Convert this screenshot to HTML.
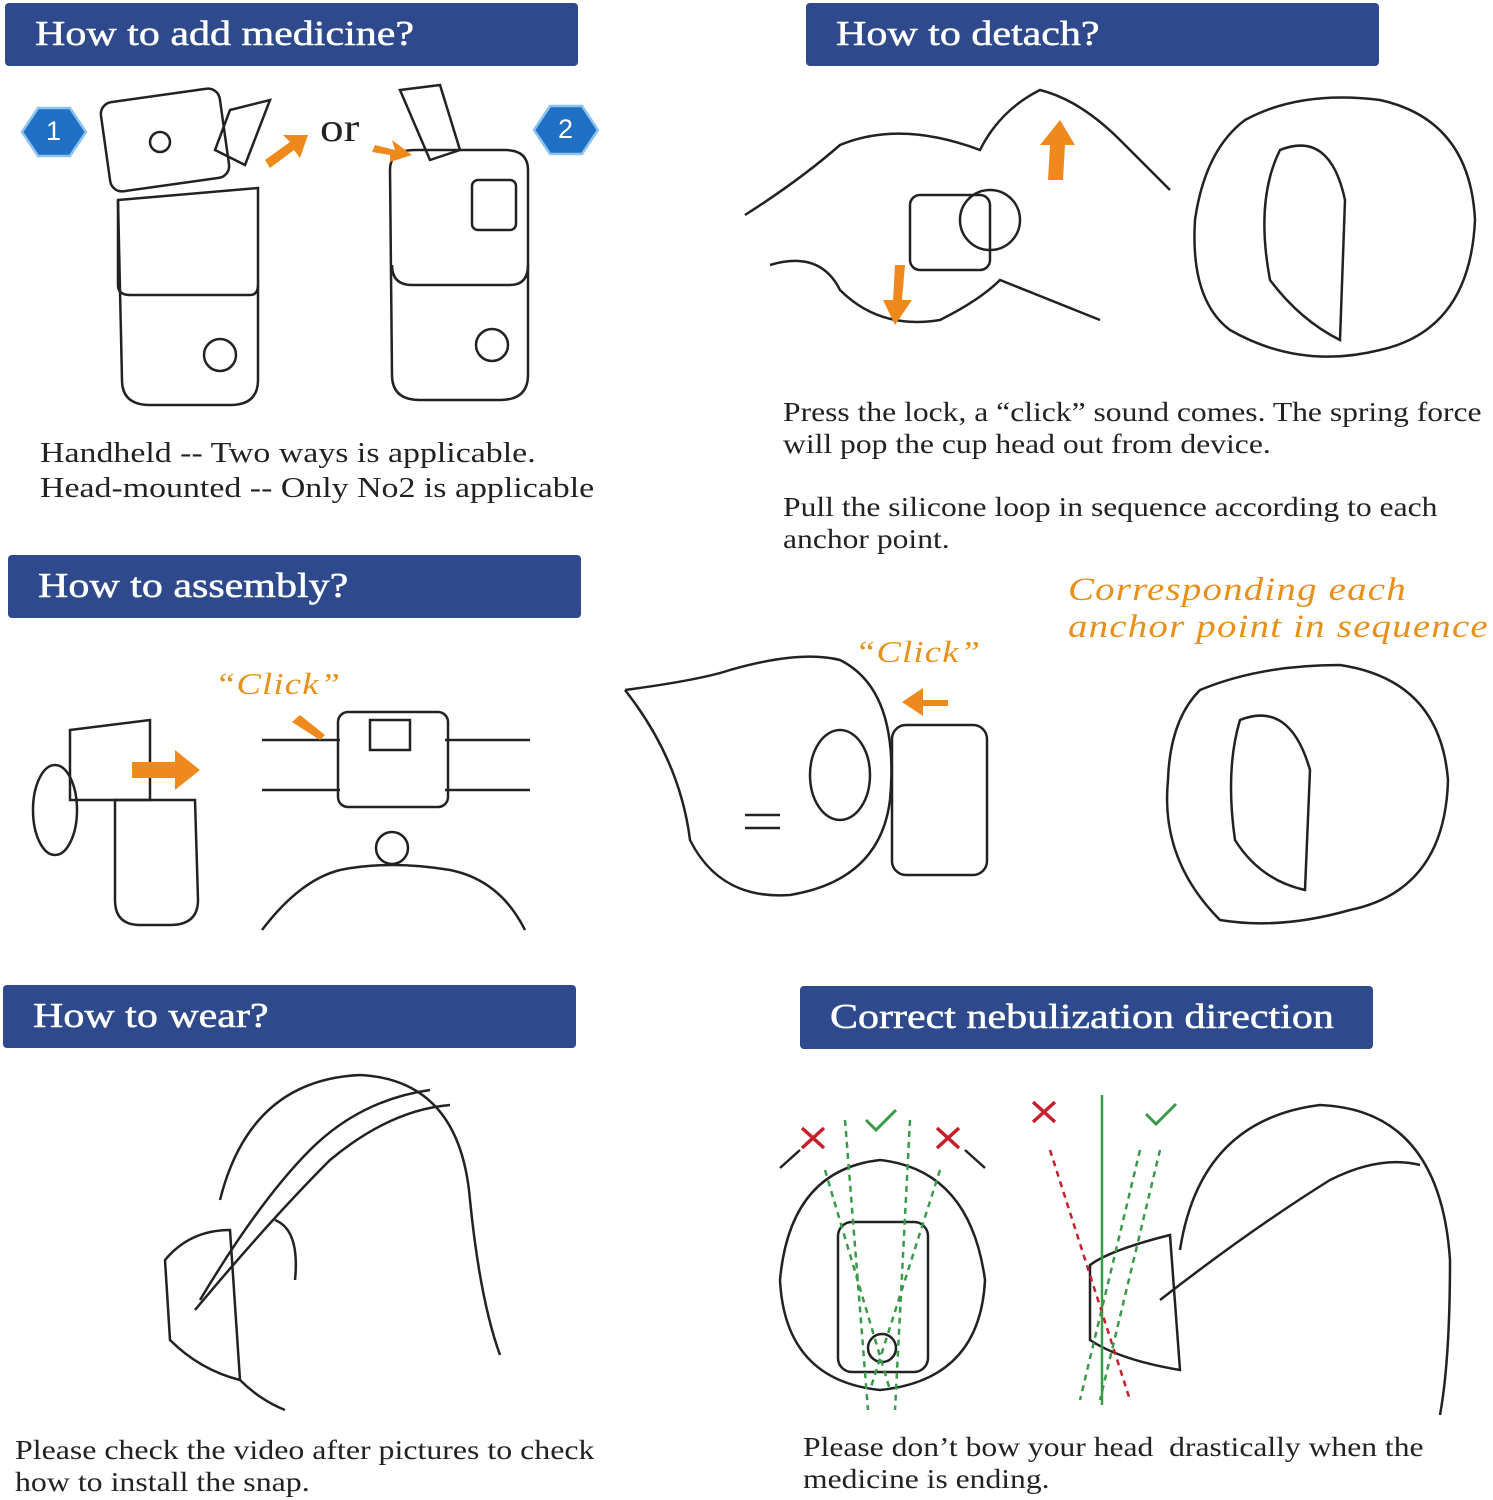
<!DOCTYPE html>
<html><head><meta charset="utf-8"><style>
html,body{margin:0;padding:0;background:#fff;}
body{width:1493px;height:1500px;position:relative;overflow:hidden;font-family:"Liberation Serif",serif;}
.h{position:absolute;background:#2e4a8c;color:#fff;font-size:35px;border-radius:4px;box-sizing:border-box;height:63px;}
.h span{position:absolute;left:30px;top:0;line-height:62px;transform:scaleX(1.2);transform-origin:left center;white-space:nowrap;-webkit-text-stroke:0.5px #fff;}
.t{position:absolute;font-size:27px;color:#222;line-height:32px;white-space:nowrap;transform:scaleX(1.18);transform-origin:left top;}
.o{position:absolute;color:#e8901a;font-style:italic;font-size:33px;line-height:37px;white-space:nowrap;letter-spacing:1px;transform:scaleX(1.18);transform-origin:left top;}
svg{position:absolute;left:0;top:0;}
</style></head><body>
<svg width="1493" height="1500" fill="none" stroke="#222" stroke-width="2.5">
<path d="M118 200 L258 188 L258 380 Q258 405 230 405 L150 405 Q122 405 122 380 Z"/>
<path d="M118 200 L118 285 Q118 295 130 295 L250 295 Q258 295 258 285"/>
<rect x="105" y="95" width="120" height="90" rx="12" transform="rotate(-8 165 140)"/>
<circle cx="160" cy="142" r="10"/><circle cx="220" cy="355" r="16"/>
<path d="M390 170 Q390 150 415 150 L505 150 Q528 150 528 170 L528 375 Q528 400 500 400 L420 400 Q392 400 392 375 Z"/>
<path d="M392 265 Q392 285 412 285 L510 285 Q528 285 528 265"/><rect x="472" y="180" width="44" height="50" rx="6"/>
<circle cx="492" cy="345" r="16"/>
<path d="M230 110 L270 100 L245 165 L215 150 Z"/><path d="M400 90 L440 85 L460 150 L430 160 Z"/>
<polygon points="38,108 70,108 86,132 70,156 38,156 22,132" fill="#1f6fc4" stroke="#8cc4f0"/>
<polygon points="550,106 582,106 598,130 582,154 550,154 534,130" fill="#1f6fc4" stroke="#8cc4f0"/>
<path d="M745 215 Q800 180 840 145 Q900 120 980 150 Q1000 110 1040 90 Q1080 100 1120 140 L1170 190"/>
<path d="M770 265 Q820 250 840 290 Q880 330 940 320 Q980 300 1000 280 L1100 320"/>
<rect x="910" y="195" width="80" height="75" rx="10"/><circle cx="990" cy="220" r="30"/>
<path d="M1245 120 Q1300 90 1380 100 Q1470 120 1475 220 Q1470 330 1380 350 Q1300 370 1230 330 Q1190 300 1195 220 Q1205 150 1245 120Z"/>
<path d="M1280 150 Q1330 130 1345 200 L1340 340 Q1300 320 1270 280 Q1255 200 1280 150Z"/>
<path d="M70 730 L150 720 L150 800 L70 800Z"/><ellipse cx="55" cy="810" rx="22" ry="45"/>
<path d="M115 800 L195 800 L198 900 Q198 925 170 925 L140 925 Q115 925 115 900Z"/>
<rect x="338" y="712" width="110" height="95" rx="10"/><rect x="370" y="720" width="40" height="30"/>
<path d="M262 740 L340 740 M445 740 L530 740 M262 790 L340 790 M445 790 L530 790 M262 930 Q300 880 340 870 Q390 860 450 870 Q500 880 525 930"/>
<circle cx="392" cy="848" r="16"/>
<path d="M625 690 Q700 680 730 670 Q800 650 840 660 Q900 690 890 800 Q880 880 790 895 Q720 900 690 840 Q680 760 625 690"/>
<ellipse cx="840" cy="775" rx="30" ry="45"/><rect x="892" y="725" width="95" height="150" rx="14"/>
<path d="M745 815 L780 815 M745 828 L780 828"/>
<path d="M1200 690 Q1260 665 1340 665 Q1440 680 1448 780 Q1445 890 1350 910 Q1280 930 1220 920 Q1160 860 1168 780 Q1170 720 1200 690Z"/>
<path d="M1240 720 Q1290 700 1310 770 L1305 890 Q1260 880 1235 840 Q1225 770 1240 720Z"/>
<path d="M220 1200 Q250 1080 360 1075 Q460 1080 470 1200 Q480 1300 500 1355"/>
<path d="M165 1260 Q190 1230 230 1230 L240 1380 Q200 1370 170 1340Z"/>
<path d="M200 1300 Q260 1200 310 1150 Q360 1100 430 1090"/><path d="M195 1310 Q270 1220 330 1160 Q390 1110 450 1105"/>
<path d="M275 1220 Q300 1230 295 1280"/><path d="M240 1380 Q260 1400 285 1410"/>
<path d="M780 1280 Q790 1170 880 1160 Q970 1170 985 1280 Q980 1380 880 1390 Q785 1380 780 1280Z"/>
<rect x="838" y="1222" width="90" height="150" rx="14"/><circle cx="882" cy="1348" r="14"/>
<path d="M1180 1250 Q1200 1120 1320 1105 Q1440 1110 1450 1260 Q1450 1360 1440 1415"/>
<path d="M1090 1265 Q1110 1250 1170 1235 L1180 1370 Q1120 1360 1090 1340Z"/>
<path d="M1160 1300 Q1250 1230 1330 1180 Q1380 1155 1420 1165"/>
<path d="M1102 1095 L1102 1405" stroke="#3a9a4a"/>
<path d="M1050 1150 L1130 1400" stroke="#c8202a" stroke-dasharray="6 5"/>
<path d="M1140 1150 L1080 1400 M1160 1150 L1100 1400" stroke="#3a9a4a" stroke-dasharray="6 5"/>
<path d="M845 1120 L868 1410 M910 1120 L895 1410 M825 1170 L890 1390 M940 1170 L870 1390" stroke="#3a9a4a" stroke-dasharray="6 5"/>
<path d="M802 1128 L824 1148 M824 1128 L802 1148 M937 1128 L959 1148 M959 1128 L937 1148 M1033 1102 L1055 1122 M1055 1102 L1033 1122" stroke="#c8202a" stroke-width="3.5"/>
<path d="M866 1120 L876 1130 L896 1110 M1146 1114 L1156 1124 L1176 1104" stroke="#3a9a4a" stroke-width="3"/>
<path d="M800 1150 L780 1168 M965 1150 L985 1168"/>
<g fill="#f0891c" stroke="none">
<polygon points="265,160 290,142 283,135 308,135 300,158 294,150 270,168"/>
<polygon points="375,145 395,150 392,140 412,155 390,162 390,155 372,152"/>
<polygon points="1048,180 1050,145 1040,145 1060,120 1075,145 1065,145 1063,180"/>
<polygon points="895,265 893,300 883,300 895,325 912,300 902,300 905,265"/>
<polygon points="132,762 175,762 175,750 200,770 175,790 175,778 132,778"/>
<polygon points="948,700 923,700 923,688 902,702 923,716 923,706 948,706"/>
<polygon points="300,715 325,735 320,740 292,722"/>
</g>
</svg>
<div class="h" style="left:5px;top:3px;width:573px;"><span>How to add medicine?</span></div>
<div class="h" style="left:806px;top:3px;width:573px;"><span>How to detach?</span></div>
<div class="h" style="left:8px;top:555px;width:573px;"><span>How to assembly?</span></div>
<div class="h" style="left:3px;top:985px;width:573px;"><span>How to wear?</span></div>
<div class="h" style="left:800px;top:986px;width:573px;"><span>Correct nebulization direction</span></div>
<div class="t" style="left:46px;top:115px;color:#fff;font-family:'Liberation Sans',sans-serif;transform:none;">1</div>
<div class="t" style="left:558px;top:113px;color:#fff;font-family:'Liberation Sans',sans-serif;transform:none;">2</div>
<div class="t" style="left:320px;top:112px;font-size:40px;">or</div>
<div class="t" style="left:40px;top:436px;font-size:28px;line-height:35px;transform:scaleX(1.21);">Handheld -- Two ways is applicable.<br>Head-mounted -- Only No2 is applicable</div>
<div class="t" style="left:783px;top:396px;transform:scaleX(1.17);">Press the lock, a “click” sound comes. The spring force<br>will pop the cup head out from device.</div>
<div class="t" style="left:783px;top:491px;transform:scaleX(1.17);">Pull the silicone loop in sequence according to each<br>anchor point.</div>
<div class="o" style="left:1068px;top:572px;">Corresponding each<br>anchor point in sequence</div>
<div class="o" style="left:855px;top:633px;font-size:31px;">“Click”</div>
<div class="o" style="left:215px;top:665px;font-size:31px;">“Click”</div>
<div class="t" style="left:15px;top:1434px;">Please check the video after pictures to check<br>how to install the snap.</div>
<div class="t" style="left:803px;top:1431px;transform:scaleX(1.17);">Please don’t bow your head &nbsp;drastically when the<br>medicine is ending.</div>
</body></html>
